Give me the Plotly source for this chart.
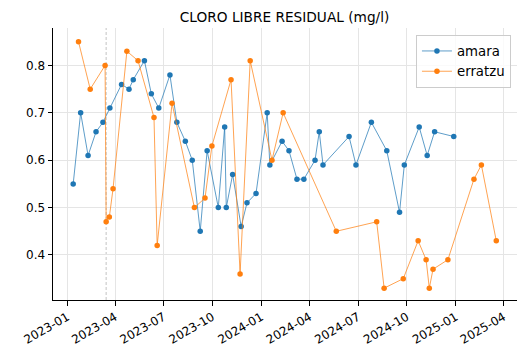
import plotly.graph_objects as go

amara_dates = ["2023-01-12","2023-01-26","2023-02-09","2023-02-24","2023-03-09","2023-03-22",
               "2023-04-13","2023-04-27","2023-05-05","2023-05-26","2023-06-08","2023-06-22",
               "2023-07-13","2023-07-26","2023-08-11","2023-08-24","2023-09-08","2023-09-21",
               "2023-10-12","2023-10-24","2023-10-27","2023-11-08","2023-11-24","2023-12-05",
               "2023-12-22","2024-01-12","2024-01-17","2024-02-09","2024-02-22","2024-03-08",
               "2024-03-21","2024-04-11","2024-04-19","2024-04-26","2024-06-14","2024-06-27",
               "2024-07-26","2024-08-24","2024-09-17","2024-09-26","2024-10-24","2024-11-08",
               "2024-11-22","2024-12-28"]
amara_vals = [0.55,0.70,0.61,0.66,0.68,0.71,
              0.76,0.75,0.77,0.81,0.74,0.71,
              0.78,0.68,0.64,0.60,0.45,0.62,
              0.50,0.67,0.50,0.57,0.46,0.51,
              0.53,0.70,0.59,0.64,0.62,0.56,
              0.56,0.60,0.66,0.59,0.65,0.59,
              0.68,0.62,0.49,0.59,0.67,0.61,
              0.66,0.65]

erratzu_dates = ["2023-01-22","2023-02-13","2023-03-13","2023-03-15","2023-03-21","2023-03-28",
                 "2023-04-23","2023-05-14","2023-06-13","2023-06-19","2023-07-17","2023-08-28",
                 "2023-09-17","2023-09-30","2023-11-05","2023-11-22","2023-12-11","2024-01-21",
                 "2024-02-11","2024-05-21","2024-08-05","2024-08-19","2024-09-24","2024-10-22",
                 "2024-11-06","2024-11-12","2024-11-19","2024-12-17","2025-02-04","2025-02-18",
                 "2025-03-18"]
erratzu_vals = [0.85,0.75,0.80,0.47,0.48,0.54,
                0.83,0.81,0.69,0.42,0.72,0.50,
                0.52,0.63,0.77,0.36,0.81,0.60,
                0.70,0.45,0.47,0.33,0.35,0.43,
                0.39,0.33,0.37,0.39,0.56,0.59,
                0.43]

marker_date = "2023-03-15"
title_text = "CLORO LIBRE RESIDUAL (mg/l)"

fig = go.Figure()
fig.add_trace(go.Scatter(x=amara_dates, y=amara_vals, name="amara", mode="lines+markers",
                         line=dict(color="rgba(31,119,180,0.8)", width=0.9),
                         marker=dict(color="#1f77b4", size=5.5)))
fig.add_trace(go.Scatter(x=erratzu_dates, y=erratzu_vals, name="erratzu", mode="lines+markers",
                         line=dict(color="rgba(255,127,14,0.8)", width=0.9),
                         marker=dict(color="#ff7f0e", size=5.5)))

fig.add_shape(type="line", xref="x", yref="paper", x0=marker_date, x1=marker_date, y0=0, y1=1,
              line=dict(color="rgba(128,128,128,0.8)", width=0.6, dash="3px,2px"), layer="below")

fig.update_layout(
    width=527, height=361,
    margin=dict(l=53, r=10, t=28, b=61, autoexpand=False),
    paper_bgcolor="white", plot_bgcolor="white",
    font=dict(family="DejaVu Sans", size=12, color="black"),
    title=dict(text=title_text, x=0.54, xanchor="center", y=1 - 17 / 361, yanchor="middle",
               font=dict(size=13.7)),
    legend=dict(x=0.987, y=0.975, xanchor="right", yanchor="top", itemwidth=30,
                bordercolor="#cccccc", borderwidth=1, bgcolor="rgba(255,255,255,0.8)",
                font=dict(size=13.3)),
    showlegend=True,
)
fig.update_xaxes(type="date", range=["2022-12-05", "2025-04-26"], automargin=False,
                 tick0="2023-01-01", dtick="M3", tickformat="%Y-%m", tickangle=-30,
                 showgrid=True, gridcolor="#e5e5e5", gridwidth=1,
                 showline=True, linecolor="black", linewidth=1,
                 ticks="outside", ticklen=4.5, tickcolor="black", zeroline=False)
fig.update_yaxes(range=[0.305, 0.879], dtick=0.1, tick0=0.4, tickformat=".1f", automargin=False,
                 showgrid=True, gridcolor="#e5e5e5", gridwidth=1,
                 showline=True, linecolor="black", linewidth=1,
                 ticks="outside", ticklen=4.5, tickcolor="black", zeroline=False)

fig.write_html("out.html", config={"displayModeBar": False},
               post_script="document.body.style.margin='0';")
